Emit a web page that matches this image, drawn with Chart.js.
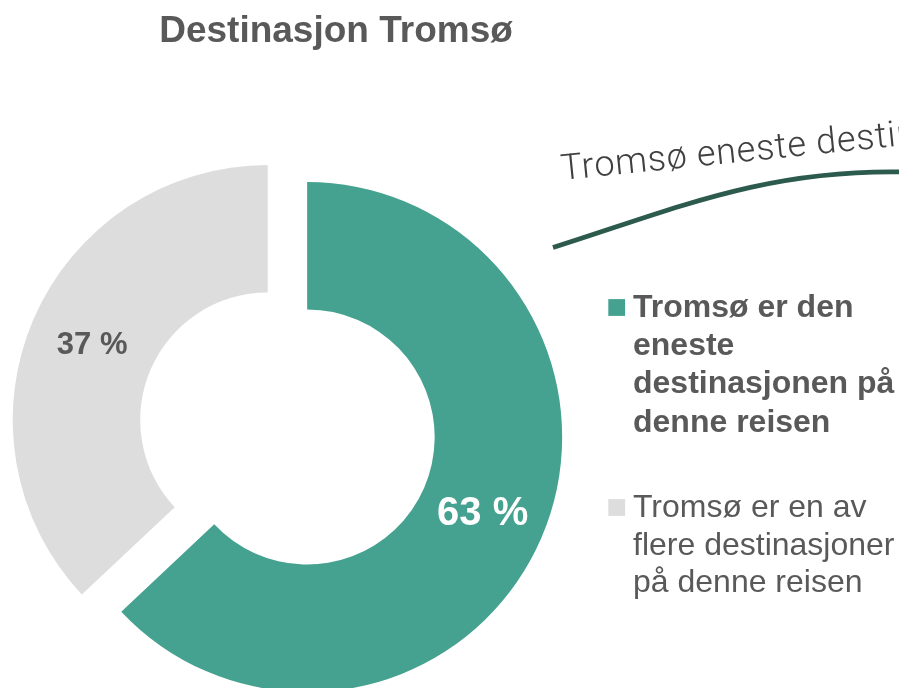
<!DOCTYPE html>
<html>
<head>
<meta charset="utf-8">
<script src="https://cdn.jsdelivr.net/npm/chart.js@4.4.1/dist/chart.umd.min.js"></script>
<style>
html,body{margin:0;padding:0;background:#ffffff;overflow:hidden}
#wrap{position:relative;width:899px;height:688px}
canvas{display:block}
</style>
</head>
<body>
<div id="wrap"><canvas id="c" width="899" height="688"></canvas></div>
<script>
// ---- data ----
const chartTitle = 'Destinasjon Tromsø';
const categories = [
  'Tromsø er den eneste destinasjonen på denne reisen',
  'Tromsø er en av flere destinasjoner på denne reisen'
];
const shares = [63, 37];
const annotationText = 'Tromsø eneste destinasjon';

// ---- styles ----
const sliceColors = ['#46a290', '#dddddd'];
const textGrey = '#595959';
const explodeDistance = [43, 0];
const sliceLabelStyle = [
  { color: '#ffffff', font: 'bold 40px "Liberation Sans", Arial, sans-serif' },
  { color: '#595959', font: 'bold 31px "Liberation Sans", Arial, sans-serif' }
];
const legendStyle = [
  { font: 'bold 32px "Liberation Sans", Arial, sans-serif', baseline: 316.7, lineHeight: 38.3 },
  { font: '32px "Liberation Sans", Arial, sans-serif', baseline: 516.7, lineHeight: 37.8 }
];

function wrapLines(ctx, text, maxWidth) {
  const words = text.split(' ');
  const lines = [];
  let cur = '';
  words.forEach(w => {
    const t = cur ? cur + ' ' + w : w;
    if (cur && ctx.measureText(t).width > maxWidth) { lines.push(cur); cur = w; }
    else cur = t;
  });
  if (cur) lines.push(cur);
  return lines;
}

const explodePlugin = {
  id: 'explode',
  beforeDatasetDraw(chart, args) {
    const ctx = chart.ctx;
    args.meta.data.forEach((arc, i) => {
      const mid = (arc.startAngle + arc.endAngle) / 2;
      const d = explodeDistance[i] || 0;
      ctx.save();
      ctx.translate(Math.cos(mid) * d, Math.sin(mid) * d);
      arc.draw(ctx);
      ctx.restore();
    });
    return false;
  }
};

const sliceLabelPlugin = {
  id: 'sliceLabels',
  afterDatasetsDraw(chart) {
    const ctx = chart.ctx;
    const meta = chart.getDatasetMeta(0);
    const values = chart.data.datasets[0].data;
    meta.data.forEach((arc, i) => {
      const p = arc.getCenterPoint();
      const mid = (arc.startAngle + arc.endAngle) / 2;
      const d = explodeDistance[i] || 0;
      ctx.save();
      ctx.font = sliceLabelStyle[i].font;
      ctx.fillStyle = sliceLabelStyle[i].color;
      ctx.textAlign = 'center';
      ctx.textBaseline = 'middle';
      ctx.fillText(values[i] + ' %', p.x + Math.cos(mid) * d, p.y + Math.sin(mid) * d + 1);
      ctx.restore();
    });
  }
};

const decorPlugin = {
  id: 'decor',
  afterDraw(chart) {
    const ctx = chart.ctx;
    // title
    ctx.save();
    ctx.font = 'bold 37px "Liberation Sans", Arial, sans-serif';
    ctx.fillStyle = textGrey;
    ctx.textAlign = 'center';
    ctx.textBaseline = 'alphabetic';
    ctx.fillText(chartTitle, 336, 41.7);
    ctx.restore();

    // legend
    const ds = chart.data.datasets[0];
    chart.data.labels.forEach((label, i) => {
      const st = legendStyle[i];
      ctx.save();
      ctx.font = st.font;
      ctx.fillStyle = ds.backgroundColor[i];
      ctx.fillRect(608.3, st.baseline - 17.6, 16.8, 16.8);
      ctx.fillStyle = textGrey;
      ctx.textAlign = 'left';
      ctx.textBaseline = 'alphabetic';
      const lines = wrapLines(ctx, label, 268);
      lines.forEach((ln, k) => ctx.fillText(ln, 633, st.baseline + k * st.lineHeight));
      ctx.restore();
    });

    // handwritten annotation
    ctx.save();
    ctx.translate(562, 180);
    ctx.rotate(-5.8 * Math.PI / 180);
    ctx.font = '300 36px Roboto, "DejaVu Sans", sans-serif';
    if ('letterSpacing' in ctx) ctx.letterSpacing = '0.8px';
    ctx.fillStyle = '#404040';
    ctx.textAlign = 'left';
    ctx.textBaseline = 'alphabetic';
    ctx.fillText(annotationText, 0, 0);
    ctx.restore();

    ctx.save();
    ctx.beginPath();
    ctx.moveTo(553, 247.5);
    ctx.bezierCurveTo(675, 209, 765, 169, 905, 172);
    ctx.strokeStyle = '#2c5a4d';
    ctx.lineWidth = 4.8;
    ctx.lineCap = 'butt';
    ctx.stroke();
    ctx.restore();
  }
};

new Chart(document.getElementById('c'), {
  type: 'doughnut',
  data: {
    labels: categories,
    datasets: [{
      data: shares,
      backgroundColor: sliceColors,
      borderWidth: 0
    }]
  },
  options: {
    responsive: false,
    animation: false,
    events: [],
    radius: 255,
    cutout: '50%',
    layout: { padding: { left: 0, right: 363.6, top: 152, bottom: 0 } },
    plugins: {
      legend: { display: false },
      tooltip: { enabled: false },
      title: { display: false }
    }
  },
  plugins: [explodePlugin, sliceLabelPlugin, decorPlugin]
});
</script>
</body>
</html>
